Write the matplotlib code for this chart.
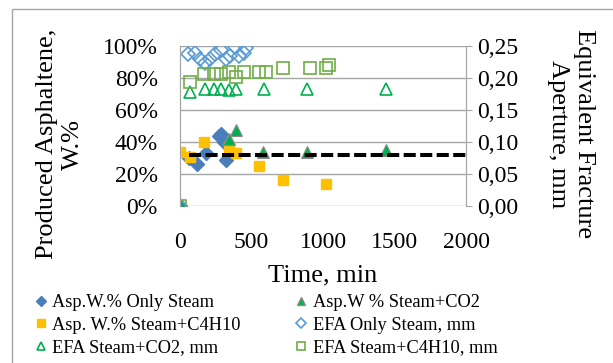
import matplotlib
matplotlib.use('Agg')
import matplotlib.pyplot as plt
from matplotlib.patches import Rectangle
from matplotlib.ticker import FuncFormatter

plt.rcParams['font.family'] = ['Liberation Serif', 'DejaVu Serif']

# Asphaltene produced, W.% (left axis)
t_asp_steam = [0, 60, 120, 180, 270, 290, 310, 320]
asp_steam = [0, 30, 26, 33, 44, 45, 40, 29]
t_asp_co2 = [340, 395, 580, 890, 1440]
asp_co2 = [42, 47.5, 34, 34, 35]
t_asp_c4 = [0, 70, 170, 340, 390, 555, 720, 1020]
asp_c4 = [34, 30.5, 40, 37, 33, 25, 16.5, 13.5]

# Equivalent fracture aperture, mm (right axis)
t_efa_steam = [0, 58, 105, 140, 175, 210, 245, 290, 325, 350, 385, 415, 445, 465]
efa_steam = [0, 0.237, 0.239, 0.230, 0.223, 0.230, 0.237, 0.244, 0.229, 0.234, 0.248, 0.234, 0.239, 0.247]
t_efa_co2 = [0, 70, 175, 235, 290, 340, 395, 585, 890, 1440]
efa_co2 = [0, 0.178, 0.183, 0.183, 0.183, 0.182, 0.183, 0.183, 0.183, 0.183]
t_efa_c4 = [0, 70, 170, 235, 290, 340, 390, 450, 550, 600, 720, 910, 1020, 1045]
efa_c4 = [0, 0.193, 0.206, 0.206, 0.206, 0.210, 0.201, 0.210, 0.210, 0.210, 0.215, 0.215, 0.215, 0.221]

avg_line = 32  # dashed reference, %

fig = plt.figure(figsize=(6.13, 3.63), dpi=100)
fig.patches.append(Rectangle((12 / 613, -0.1), 1.2, 1.1 - 9 / 363, transform=fig.transFigure,
                             fill=False, edgecolor='#A6A6A6', linewidth=1))
ax = fig.add_axes([180 / 613, 1 - 206 / 363, 286 / 613, 160 / 363])
ax2 = ax.twinx()

grey = '#A6A6A6'
ax.set_xlim(0, 2000)
ax.set_ylim(0, 100)
ax2.set_ylim(0, 0.25)
ax.set_xticks([0, 500, 1000, 1500, 2000])
ax.set_yticks([0, 20, 40, 60, 80, 100])
ax2.set_yticks([0, 0.05, 0.10, 0.15, 0.20, 0.25])
ax.yaxis.set_major_formatter(FuncFormatter(lambda v, p: f"{v:.0f}%"))
ax2.yaxis.set_major_formatter(FuncFormatter(lambda v, p: f"{v:.2f}".replace('.', ',')))
ax.grid(axis='y', color=grey, linewidth=1)
ax.set_axisbelow(True)
for a in (ax, ax2):
    for s in a.spines.values():
        s.set_color(grey)
    a.spines['top'].set_visible(False)
ax.spines['bottom'].set_visible(False)
ax2.spines['bottom'].set_visible(False)
ax.tick_params(axis='y', length=0, labelsize=17, pad=16)
ax.tick_params(axis='x', length=0, labelsize=17, pad=19)
ax2.tick_params(axis='y', length=4, color=grey, labelsize=17, pad=4)

ax.plot(t_asp_steam, asp_steam, 'D', color='#4A7EBB', ms=7.5, ls='none', zorder=3)
ax.plot(t_asp_c4, asp_c4, 's', color='#FFC000', ms=7.5, ls='none', zorder=3)
ax.plot(t_asp_co2, asp_co2, '^', color='#00B050', mec='#8C8C8C', mew=0.8, ms=8, ls='none', zorder=3)
ax.axhline(avg_line, xmin=0.03, xmax=1, color='black', linewidth=2.9, dashes=(3, 1.1), zorder=4)

ax2.plot(t_efa_steam, efa_steam, 'D', mfc='none', mec='#5B9BD5', mew=1.2, ms=7, ls='none')
ax2.plot(t_efa_co2, efa_co2, '^', mfc='none', mec='#00B050', mew=1.2, ms=8, ls='none')
ax2.plot(t_efa_c4, efa_c4, 's', mfc='none', mec='#70AD47', mew=1.2, ms=8, ls='none')

ax.set_xlabel('Time, min', fontsize=19, labelpad=8)
fig.text(60 / 613, 1 - 144 / 363, 'Produced Asphaltene,\nW.%', rotation=90,
         ha='center', va='center', fontsize=19, linespacing=1.25)
fig.text(571 / 613, 1 - 134 / 363, 'Equivalent Fracture\nAperture, mm', rotation=-90,
         ha='center', va='center', fontsize=19, linespacing=1.2)

h = [
    plt.Line2D([], [], marker='D', color='#4A7EBB', ls='none', ms=5),
    plt.Line2D([], [], marker='s', color='#FFC000', ls='none', ms=6),
    plt.Line2D([], [], marker='^', mfc='none', mec='#00B050', ls='none', ms=6, mew=1.2),
    plt.Line2D([], [], marker='^', color='#00B050', mec='#8C8C8C', ls='none', ms=6),
    plt.Line2D([], [], marker='D', mfc='none', mec='#5B9BD5', ls='none', ms=5, mew=1.2),
    plt.Line2D([], [], marker='s', mfc='none', mec='#70AD47', ls='none', ms=6, mew=1.2),
]
labels = ['Asp.W.% Only Steam', 'Asp. W.% Steam+C4H10', 'EFA Steam+CO2, mm',
          'Asp.W % Steam+CO2', 'EFA Only Steam, mm', 'EFA Steam+C4H10, mm']
fig.legend(h, labels, ncol=2, loc='center left', bbox_to_anchor=(35 / 613, 1 - 325 / 363),
           frameon=False, fontsize=13.2, handlelength=0.6, handletextpad=0.35,
           columnspacing=3.0, labelspacing=0.3, borderaxespad=0, borderpad=0)

fig.savefig('out.png', dpi=100)
